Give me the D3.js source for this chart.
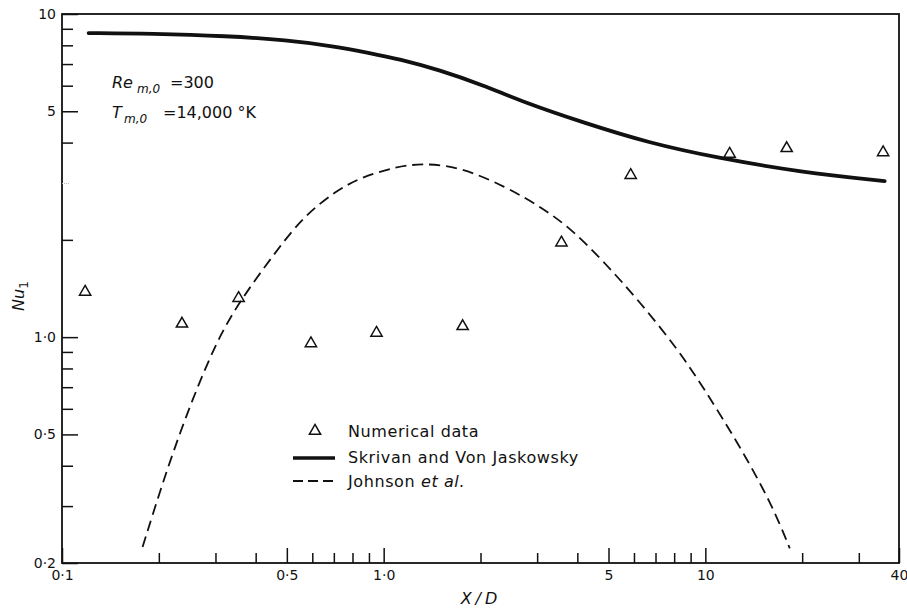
<!DOCTYPE html>
<html>
<head>
<meta charset="utf-8">
<script src="https://cdn.jsdelivr.net/npm/d3@7"></script>
<style>
  html, body { margin: 0; padding: 0; background: #fff; }
  svg { display: block; }
  text { font-family: "DejaVu Sans", sans-serif; fill: #111; }
</style>
</head>
<body>
<svg id="chart" width="907" height="609"></svg>
<script>
// Numerical data (triangles): X/D and Nu_1
const numX = [0.118, 0.236, 0.354, 0.594, 0.95, 1.76, 3.57, 5.86, 11.9, 17.9, 35.7];
const numY = [1.38, 1.10, 1.32, 0.956, 1.03, 1.08, 1.96, 3.17, 3.69, 3.84, 3.73];

// Skrivan and Von Jaskowsky (solid curve)
const skrX = [0.121, 0.189, 0.327, 0.50, 0.70, 0.90, 1.12, 1.49, 2.03, 2.77, 4.13, 6.66, 11.0, 19.8, 36.1];
const skrY = [8.73, 8.70, 8.55, 8.30, 7.95, 7.58, 7.25, 6.71, 6.03, 5.30, 4.63, 3.99, 3.58, 3.24, 3.04];

// Johnson et al. (dashed curve)
const johX = [0.178, 0.205, 0.242, 0.300, 0.358, 0.466, 0.563, 0.714, 0.863, 1.10, 1.32, 1.72, 2.40, 3.10, 3.86, 4.89, 6.20, 8.25, 9.98, 12.65, 16.05, 18.3];
const johY = [0.224, 0.352, 0.567, 0.960, 1.30, 1.86, 2.36, 2.85, 3.14, 3.37, 3.45, 3.37, 2.92, 2.52, 2.15, 1.69, 1.30, 0.912, 0.685, 0.469, 0.306, 0.222];

// Axis ticks and their labels
const xMajor = [0.1, 0.5, 1, 5, 10, 40];
const xMajorLabels = ["0·1", "0·5", "1·0", "5", "10", "40"];
const xMinor = [0.2, 0.3, 0.4, 0.6, 0.7, 0.8, 0.9, 2, 3, 4, 6, 7, 8, 9, 20, 30];
const yMajor = [0.2, 0.5, 1, 5, 10];
const yMajorLabels = ["0·2", "0·5", "1·0", "5", "10"];
const yMinor = [0.3, 0.4, 0.6, 0.7, 0.8, 0.9, 2, 4, 6, 7, 8, 9];
const yFaint = [3];

const svg = d3.select("#chart");
const L = 62, R = 899, T = 14, B = 563;

const x = d3.scaleLog().domain([0.1, 40]).range([L, R]);
const y = d3.scaleLog().domain([0.2, 10]).range([B, T]);

// frame
svg.append("rect")
  .attr("x", L).attr("y", T).attr("width", R - L).attr("height", B - T)
  .attr("fill", "none").attr("stroke", "#111").attr("stroke-width", 1.8);

function styleAxis(g) {
  g.select(".domain").remove();
  g.selectAll(".tick line").attr("stroke", "#111").attr("stroke-width", 1.5);
  g.selectAll(".tick text").attr("font-size", 14).attr("fill", "#111")
    .attr("font-family", "DejaVu Sans, sans-serif");
}

// x axis: major ticks with labels, minor ticks inward
const xMajFmt = d => xMajorLabels[xMajor.indexOf(d)];
svg.append("g").attr("transform", `translate(0,${B})`)
  .call(d3.axisBottom(x).tickValues(xMajor).tickFormat(xMajFmt)
    .tickSizeInner(-15).tickSizeOuter(0).tickPadding(7))
  .call(styleAxis);
svg.append("g").attr("transform", `translate(0,${B})`)
  .call(d3.axisBottom(x).tickValues(xMinor).tickFormat("")
    .tickSizeInner(-10).tickSizeOuter(0))
  .call(styleAxis);

// y axis
const yMajFmt = d => yMajorLabels[yMajor.indexOf(d)];
svg.append("g").attr("transform", `translate(${L},0)`)
  .call(d3.axisLeft(y).tickValues(yMajor).tickFormat(yMajFmt)
    .tickSizeInner(-16).tickSizeOuter(0).tickPadding(6))
  .call(styleAxis);
svg.append("g").attr("transform", `translate(${L},0)`)
  .call(d3.axisLeft(y).tickValues(yMinor).tickFormat("")
    .tickSizeInner(-11).tickSizeOuter(0))
  .call(styleAxis);
svg.append("g").attr("transform", `translate(${L},0)`)
  .call(d3.axisLeft(y).tickValues(yFaint).tickFormat("")
    .tickSizeInner(-8).tickSizeOuter(0))
  .call(styleAxis)
  .selectAll(".tick line").attr("stroke", "#bbb").attr("stroke-width", 1).attr("stroke-dasharray", "1,1");

// curves (smoothed B-splines through the read points)
const line = d3.line().x(d => x(d[0])).y(d => y(d[1])).curve(d3.curveBasis);

svg.append("path")
  .datum(skrX.map((v, i) => [v, skrY[i]]))
  .attr("d", line).attr("fill", "none").attr("stroke", "#111")
  .attr("stroke-width", 3.8).attr("stroke-linecap", "round");

svg.append("path")
  .datum(johX.map((v, i) => [v, johY[i]]))
  .attr("d", line).attr("fill", "none").attr("stroke", "#111")
  .attr("stroke-width", 1.8).attr("stroke-dasharray", "11,6");

// triangles
const tri = d3.symbol().type(d3.symbolTriangle).size(55);
svg.append("g").selectAll("path")
  .data(numX.map((v, i) => [v, numY[i]]))
  .join("path")
  .attr("d", tri)
  .attr("transform", d => `translate(${x(d[0])},${y(d[1])})`)
  .attr("fill", "none").attr("stroke", "#111").attr("stroke-width", 1.5);

// parameter annotations
const ann1 = svg.append("text").attr("x", 112).attr("y", 88).attr("font-size", 16);
ann1.append("tspan").attr("font-style", "italic").text("Re");
ann1.append("tspan").attr("x", 137).attr("dy", 5).attr("font-size", 12).attr("font-style", "italic").text("m,0");
ann1.append("tspan").attr("x", 170).attr("dy", -5).text("=300");

const ann2 = svg.append("text").attr("x", 112).attr("y", 118).attr("font-size", 16);
ann2.append("tspan").attr("font-style", "italic").text("T");
ann2.append("tspan").attr("x", 124).attr("dy", 5).attr("font-size", 12).attr("font-style", "italic").text("m,0");
ann2.append("tspan").attr("x", 163).attr("dy", -5).text("=14,000 °K");

// legend
const leg = svg.append("g").attr("font-size", 16).attr("letter-spacing", 0.6);
leg.append("path").attr("d", tri).attr("transform", "translate(315,431)")
  .attr("fill", "none").attr("stroke", "#111").attr("stroke-width", 1.5);
leg.append("text").attr("x", 348).attr("y", 437).text("Numerical data");
leg.append("line").attr("x1", 293).attr("x2", 335).attr("y1", 458).attr("y2", 458)
  .attr("stroke", "#111").attr("stroke-width", 3.5);
leg.append("text").attr("x", 348).attr("y", 463).text("Skrivan and Von Jaskowsky");
leg.append("line").attr("x1", 293).attr("x2", 335).attr("y1", 481).attr("y2", 481)
  .attr("stroke", "#111").attr("stroke-width", 1.8).attr("stroke-dasharray", "10,5");
const jt = leg.append("text").attr("x", 348).attr("y", 487);
jt.append("tspan").text("Johnson ");
jt.append("tspan").attr("font-style", "italic").text("et al.");

// axis titles
svg.append("text").attr("x", 481).attr("y", 604).attr("text-anchor", "middle")
  .attr("font-size", 16).attr("font-style", "italic").attr("letter-spacing", 4).text("X/D");

const yt = svg.append("text").attr("transform", "translate(24,296) rotate(-90)")
  .attr("text-anchor", "middle").attr("font-size", 16);
yt.append("tspan").attr("font-style", "italic").text("Nu");
yt.append("tspan").attr("dy", 4).attr("font-size", 12).text("1");
</script>
</body>
</html>
